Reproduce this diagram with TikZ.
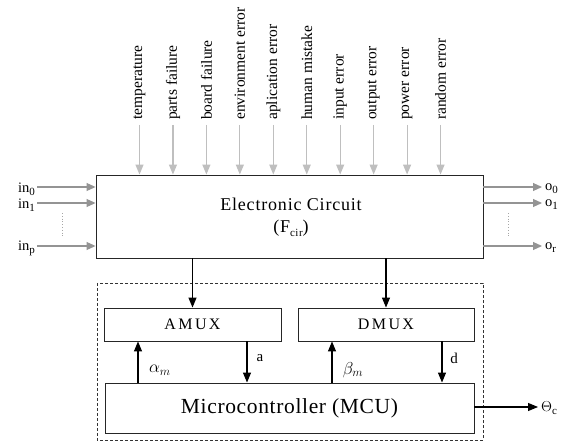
\documentclass[tikz,border=0pt]{standalone}
\usepackage{fontspec}
\setmainfont{Liberation Serif}
\usetikzlibrary{arrows.meta}
\tikzset{
  blk/.style={draw=black!85, line width=0.9pt, minimum height=33pt},
  softarr/.style={draw=black!25, line width=1.1pt, -{Triangle[length=10pt,width=8pt]}},
  ioarr/.style={draw=black!42, line width=1.1pt, -{Triangle[length=9pt,width=8pt]}},
  hardarr/.style={draw=black, line width=1.1pt, -{Triangle[length=10pt,width=8pt]}},
  cause/.style={rotate=90, anchor=west, inner sep=0pt, font=\fontsize{15.5}{17}\selectfont},
  iolab/.style={inner sep=0pt, font=\fontsize{14.5}{16}\selectfont},
  dots/.style={draw=black!35, dotted, line width=0.8pt},
}
\newcommand{\sbs}[1]{\raisebox{-0.45ex}{\fontsize{11}{12}\selectfont #1}}
\begin{document}
\begin{tikzpicture}[x=1pt, y=-1pt]
\useasboundingbox (0,0) rectangle (566,441);

% main circuit block
\node[draw=black!85, line width=0.9pt, minimum width=387pt, minimum height=83pt] (cir) at (289.5,216.5) {};
\node[align=center, font=\fontsize{18}{22}\selectfont\addfontfeature{LetterSpace=4.5}] (cirlab) at (291,217)
  {Electronic Circuit\\(F\sbs{cir})};

% disturbance sources acting on the circuit
\foreach \k/\t in {0/temperature,1/parts failure,2/board failure,3/environment error,
    4/aplication error,5/human mistake,6/input error,7/output error,8/power error,9/random error}{
  \coordinate (s\k) at ({139.5+33.45*\k},125);
  \node[cause] (c\k) at ({139.5+33.45*\k},120) {\t};
  \draw[softarr] (s\k) -- (s\k |- cir.north);
}

% inputs
\foreach \n/\y/\s in {i0/187/0, i1/203/1, ip/246/p}{
  \coordinate (\n) at (37,\y);
  \node[iolab, anchor=east] (\n lab) at (35,\y+2) {in\sbs{\s}};
  \draw[ioarr] (\n) -- (\n -| cir.west);
}
\coordinate (id1) at (62,213); \coordinate (id2) at (62,238);
\draw[dots] (id1) -- (id2);

% outputs
\foreach \n/\y/\s in {o0/187/0, o1/203/1, or/246/r}{
  \coordinate (\n) at (542,\y);
  \node[iolab, anchor=west] (\n lab) at (545,\y+2) {o\sbs{\s}};
  \draw[ioarr] (\n -| cir.east) -- (\n);
}
\coordinate (od1) at (508,213); \coordinate (od2) at (508,238);
\draw[dots] (od1) -- (od2);

% measurement module
\coordinate (dbA) at (97,283); \coordinate (dbB) at (483,440);
\draw[black!80, dashed, line width=0.8pt, dash pattern=on 3pt off 2pt] (dbA) rectangle (dbB);

\node[blk, minimum width=177pt, font=\fontsize{16}{18}\selectfont\addfontfeature{LetterSpace=15}] (amux) at (192.5,324.5) {AMUX};
\node[blk, minimum width=176pt, font=\fontsize{16}{18}\selectfont\addfontfeature{LetterSpace=15}] (dmux) at (386,324.5) {DMUX};
\node[blk, minimum width=369pt, minimum height=50pt, font=\fontsize{21.5}{24}\selectfont\addfontfeature{LetterSpace=3}] (mcu) at (289.5,408) {Microcontroller (MCU)};

\draw[hardarr] (cir.south -| amux.north) -- (amux.north);
\draw[hardarr] (cir.south -| dmux.north) -- (dmux.north);

\coordinate (xa) at (138,0); \coordinate (xb) at (247,0);
\coordinate (xc) at (332,0); \coordinate (xd) at (442,0);
\draw[hardarr] (xa |- mcu.north) -- (xa |- amux.south);
\draw[hardarr] (xb |- amux.south) -- (xb |- mcu.north);
\draw[hardarr] (xc |- mcu.north) -- (xc |- dmux.south);
\draw[hardarr] (xd |- dmux.south) -- (xd |- mcu.north);

\node[font=\fontsize{17}{18}\selectfont] (alab) at (160,370) {$\alpha_m$};
\node[font=\fontsize{15}{16}\selectfont] (albl) at (260,358) {a};
\node[font=\fontsize{17}{18}\selectfont] (blab) at (353,370) {$\beta_m$};
\node[font=\fontsize{15}{16}\selectfont] (dlbl) at (454,358) {d};

\coordinate (th) at (538,407);
\draw[hardarr] (mcu.east |- th) -- (th);
\node[iolab, anchor=west] (thlab) at (541,408) {$\Theta$\sbs{c}};
\end{tikzpicture}
\end{document}
